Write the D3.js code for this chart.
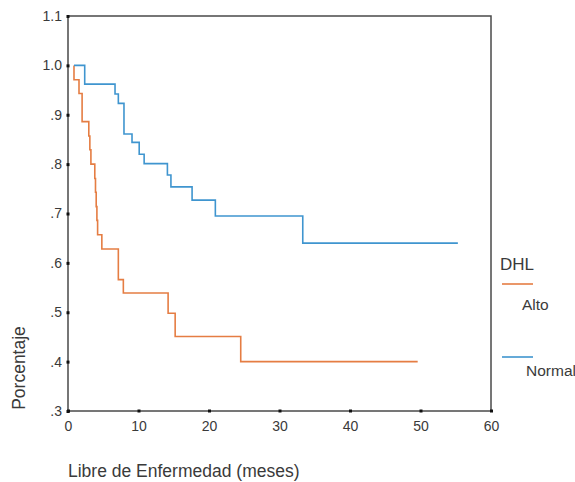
<!DOCTYPE html>
<html>
<head>
<meta charset="utf-8">
<script src="https://cdn.jsdelivr.net/npm/d3@7"></script>
<style>
  body { margin: 0; background: #fff; }
  text { font-family: "Liberation Sans", Arial, sans-serif; fill: #3a3a3a; }
</style>
</head>
<body>
<svg width="575" height="482"></svg>
<script>
// survival steps (months, proportion)
var altoTime = [0.85, 1.56, 2.0, 2.95, 3.1, 3.25, 3.8, 3.9, 4.0, 4.1, 4.2, 4.8, 7.14, 7.85, 14.2, 15.2, 24.5, 49.6];
var altoSurv = [0.971, 0.943, 0.886, 0.857, 0.829, 0.80, 0.771, 0.743, 0.714, 0.686, 0.657, 0.628, 0.566, 0.539, 0.498, 0.451, 0.40, 0.40];

var normalTime = [0.85, 2.37, 6.67, 7.14, 7.94, 9.08, 10.1, 10.8, 14.1, 14.6, 17.6, 20.9, 33.3, 55.3];
var normalSurv = [1.0, 0.962, 0.942, 0.923, 0.861, 0.844, 0.820, 0.801, 0.778, 0.754, 0.727, 0.695, 0.640, 0.640];

var xTicks = [0, 10, 20, 30, 40, 50, 60];
var yTicks = [0.3, 0.4, 0.5, 0.6, 0.7, 0.8, 0.9, 1.0, 1.1];
var yTickLabels = [".3", ".4", ".5", ".6", ".7", ".8", ".9", "1.0", "1.1"];

var groups = ["Alto", "Normal"];
var colors = ["#e57d43", "#3f95cf"];

var svg = d3.select("svg");

var x = d3.scaleLinear().domain([0, 60]).range([68, 491]),
    y = d3.scaleLinear().domain([0.3, 1.1]).range([411, 16]);

// start each curve at 1.0
function steps(t, s) {
    var pts = [[t[0], 1.0]];
    t.forEach(function(d, i) { pts.push([d, s[i]]); });
    return pts;
}

var series = [steps(altoTime, altoSurv), steps(normalTime, normalSurv)];

var line = d3.line()
    .curve(d3.curveStepAfter)
    .x(function(d) { return x(d[0]); })
    .y(function(d) { return y(d[1]); });

// frame
svg.append("rect")
    .attr("x", x(0))
    .attr("y", y(1.1))
    .attr("width", x(60) - x(0))
    .attr("height", y(0.3) - y(1.1))
    .attr("fill", "none")
    .attr("stroke", "#4a4a4a")
    .attr("stroke-width", 1.5);

svg.selectAll(".curve")
    .data(series)
    .enter().append("path")
    .attr("class", "curve")
    .attr("d", line)
    .attr("fill", "none")
    .attr("stroke", function(d, i) { return colors[i]; })
    .attr("stroke-width", 1.6);

// axes
var xAxis = d3.axisBottom(x).tickValues(xTicks).tickSize(0).tickPadding(10);
var yAxis = d3.axisLeft(y).tickValues(yTicks).tickSize(0).tickPadding(6)
    .tickFormat(function(d, i) { return yTickLabels[i]; });

var gx = svg.append("g").attr("transform", "translate(0," + y(0.3) + ")").call(xAxis);
var gy = svg.append("g").attr("transform", "translate(" + x(0) + ",0)").call(yAxis);

[gx, gy].forEach(function(g) {
    g.select(".domain").remove();
    g.selectAll("text")
        .attr("fill", "#3a3a3a")
        .style("font-size", "14px")
        .style("font-family", "Liberation Sans, Arial, sans-serif");
});

// square tick marks
gx.selectAll(".tick").append("rect")
    .attr("x", -1.5).attr("y", -1.5).attr("width", 3).attr("height", 3).attr("fill", "#111");
gy.selectAll(".tick").append("rect")
    .attr("x", -1.5).attr("y", -1.5).attr("width", 3).attr("height", 3).attr("fill", "#111");

// axis titles
svg.append("text")
    .attr("x", 68)
    .attr("y", 477)
    .style("font-size", "17.5px")
    .text("Libre de Enfermedad (meses)");

svg.append("text")
    .attr("transform", "translate(25,368) rotate(-90)")
    .attr("text-anchor", "middle")
    .style("font-size", "17.5px")
    .text("Porcentaje");

// legend
svg.append("text")
    .attr("x", 500)
    .attr("y", 270)
    .style("font-size", "17px")
    .text("DHL");

var legendY = [284, 357];
var legend = svg.selectAll(".legend")
    .data(groups)
    .enter().append("g")
    .attr("class", "legend")
    .attr("transform", function(d, i) { return "translate(502," + legendY[i] + ")"; });

legend.append("line")
    .attr("x1", 0).attr("x2", 31)
    .attr("stroke", function(d, i) { return colors[i]; })
    .attr("stroke-width", 1.6);

legend.append("text")
    .attr("x", function(d, i) { return i == 0 ? 20 : 24; })
    .attr("y", function(d, i) { return i == 0 ? 26 : 19; })
    .style("font-size", "15.5px")
    .text(function(d) { return d; });
</script>
</body>
</html>
